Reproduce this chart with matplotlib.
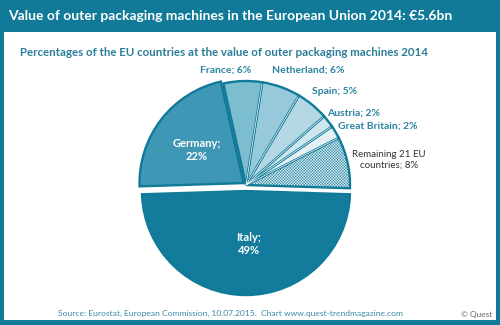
import matplotlib
matplotlib.use("Agg")
import matplotlib.pyplot as plt
from matplotlib.patches import Rectangle
import numpy as np

# data
countries = ["Italy", "Remaining 21 EU\ncountries", "Great Britain", "Austria",
             "Spain", "Netherland", "France", "Germany"]
shares = [49, 8, 2, 2, 5, 6, 6, 22]
colors = ["#137c9c", "#eef5f8", "#e4f0f4", "#cfe6ee",
          "#b3d8e4", "#96c9d9", "#7dbdd0", "#3e97b4"]
explode = [0.058, 0, 0, 0, 0, 0, 0, 0.03]

TEAL = "#107a98"
LABEL = "#2a84a3"

plt.rcParams["font.family"] = ["Lato", "DejaVu Sans"]
plt.rcParams["hatch.linewidth"] = 0.3

W, H = 500, 325
fig = plt.figure(figsize=(W / 100, H / 100), dpi=100)

# frame and title bar
fig.patches.append(Rectangle((0, 0), 1, 1, transform=fig.transFigure,
                             facecolor=TEAL, zorder=0))
fig.patches.append(Rectangle((4 / W, 5 / H), 1 - 8 / W, 1 - 37 / H,
                             transform=fig.transFigure, facecolor="white", zorder=0))
fig.text(8 / W, 1 - 16 / H, "Value of outer packaging machines in the European Union 2014: €5.6bn",
         color="white", fontsize=10, fontweight="bold", va="center", ha="left")
fig.text(20 / W, 1 - 52 / H,
         "Percentages of the EU countries at the value of outer packaging machines 2014",
         color="#2b7d98", fontsize=8.3, fontweight="bold", va="center", ha="left")
fig.text(230 / W, 1 - 313 / H,
         "Source: Eurostat, European Commission, 10.07.2015.  Chart www.quest-trendmagazine.com",
         color="#3a8aa8", fontsize=6.1, va="center", ha="center")
fig.text(1 - 8 / W, 1 - 314 / H, "© Quest", color="#666666", fontsize=6,
         va="center", ha="right")

# pie axes, 1 data unit = R pixels
cx, cy, R = 246, 185, 104
ax = fig.add_axes([0, 0, 1, 1])
ax.set_zorder(1)
ax.patch.set_visible(False)

wedges, _ = ax.pie(shares, colors=colors, explode=explode, startangle=181.8,
                   counterclock=True,
                   wedgeprops=dict(edgecolor=TEAL, linewidth=1.7))
wedges[1].set_hatch("xxxxxxxxxxxx")

# thin white line inside the borders between neighbouring, non-exploded slices
for a, b in zip(wedges[:-1], wedges[1:]):
    i = wedges.index(a)
    if explode[i] or explode[i + 1]:
        continue
    x0, y0 = a.center
    t = np.deg2rad(a.theta2)
    ax.plot([x0, x0 + a.r * np.cos(t) * 0.985], [y0, y0 + a.r * np.sin(t) * 0.985],
            color="white", lw=0.5, solid_capstyle="butt", zorder=3)

ax.set_xlim(-cx / R, (W - cx) / R)
ax.set_ylim(-(H - cy) / R, cy / R)
ax.set_aspect("auto")
ax.axis("off")


def px(x, y):
    return ((x - cx) / R, (cy - y) / R)


inside = [("Italy;\n49%", 249, 244), ("Germany;\n22%", 197, 150)]
for txt, x, y in inside:
    ax.text(*px(x, y), txt, color="white", fontsize=8, fontweight="bold",
            ha="center", va="center", linespacing=1.3)

outside = [("France; 6%", 226, 70), ("Netherland; 6%", 308, 70),
           ("Spain; 5%", 335, 92), ("Austria; 2%", 354, 113),
           ("Great Britain; 2%", 378, 126)]
for txt, x, y in outside:
    ax.text(*px(x, y), txt, color=LABEL, fontsize=7.5, fontweight="bold",
            ha="center", va="center")
ax.text(*px(389, 160), "Remaining 21 EU\ncountries; 8%", color="#333333",
        fontsize=7, ha="center", va="center", linespacing=1.2)

fig.savefig("out.png", dpi=100)
